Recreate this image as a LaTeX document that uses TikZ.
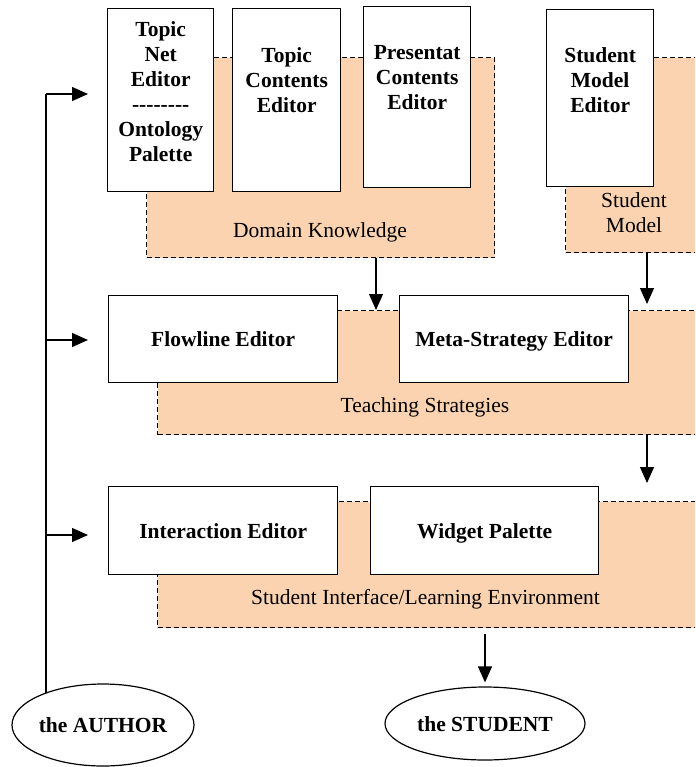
\documentclass[tikz,border=0pt]{standalone}
\usepackage{fontspec}
\setmainfont{Liberation Serif}
\usetikzlibrary{arrows.meta,calc,shapes.geometric,backgrounds}
\definecolor{peach}{HTML}{FBD3B1}
\newcommand{\hy}{\mbox{-}}
\begin{document}
\begin{tikzpicture}[x=1pt,y=-1pt,
  box/.style={draw, line width=1.4pt, fill=white, inner sep=0pt, anchor=north west,
    font=\bfseries\fontsize{21.5}{25}\selectfont, align=center, text height=15pt, text depth=0pt},
  region/.style={draw, fill=peach, line width=1.1pt, dash pattern=on 5pt off 3pt,
    inner sep=0pt, anchor=north west},
  btxt/.style={font=\bfseries\fontsize{21.5}{25}\selectfont, align=center, inner sep=0pt},
  rtxt/.style={font=\fontsize{21.5}{25}\selectfont, align=center, inner sep=0pt},
  arr/.style={line width=1.2pt, -{Triangle[length=16pt,width=14pt]}},
  link/.style={line width=1.2pt},
  actor/.style={ellipse, draw, line width=1.2pt, fill=white, inner sep=0pt,
    font=\bfseries\fontsize{21.5}{25}\selectfont, text height=15pt, text depth=0pt}
]
\useasboundingbox (0,0) rectangle (695,767);
\clip (0,0) rectangle (695,767);

% regions
\node[region, minimum width=348pt, minimum height=200pt] (dk) at (146,57) {};
\node[region, minimum width=145pt, minimum height=195pt] (sm) at (565,57) {};
\node[region, minimum width=550pt, minimum height=124pt] (ts) at (157,310) {};
\node[region, minimum width=550pt, minimum height=126pt] (si) at (157,501) {};

\node[rtxt, anchor=base] (dkl) at (320,237) {Domain Knowledge};
\node[rtxt, anchor=north] (sml) at (634,192) {Student\\Model};
\node[rtxt, anchor=base] (tsl) at (425,412) {Teaching Strategies};
\node[rtxt, anchor=base] (sil) at (425.5,604) {Student Interface/Learning Environment};

% top editors
\node[box, minimum width=106pt, minimum height=183pt] (tne) at (107,8) {};
\node[box, minimum width=108pt, minimum height=183pt] (tce) at (232,8) {};
\node[box, minimum width=107pt, minimum height=181pt] (pce) at (363,6) {};
\node[box, minimum width=107pt, minimum height=177pt] (sme) at (546,9) {};
\node[btxt, anchor=north] (tnet) at ([yshift=-13pt]tne.north) {Topic\\Net\\Editor\\\hy\hy\hy\hy\hy\hy\hy\hy\\Ontology\\Palette};
\node[btxt, anchor=north] (tcet) at ([yshift=-39pt]tce.north) {Topic\\Contents\\Editor};
\node[btxt, anchor=north] (pcet) at ([yshift=-39pt]pce.north) {Presentat\\Contents\\Editor};
\node[btxt, anchor=north] (smet) at ([yshift=-38pt]sme.north) {Student\\Model\\Editor};

% middle and bottom editors
\node[box, minimum width=229pt, minimum height=87pt] (fe) at (108,295) {Flowline Editor};
\node[box, minimum width=229pt, minimum height=87pt] (mse) at (399,295) {Meta-Strategy Editor};
\node[box, minimum width=229pt, minimum height=88pt] (ie) at (108,486) {Interaction Editor};
\node[box, minimum width=228pt, minimum height=88pt] (wp) at (370,486) {Widget Palette};

% actors
\node[actor, minimum width=182pt, minimum height=82pt] (author) at (103,725) {the AUTHOR};
\node[actor, minimum width=200pt, minimum height=73pt] (student) at (485,723.5) {the STUDENT};

% flows
\coordinate (c376) at (376,0);
\coordinate (c647) at (647,0);
\draw[arr] (dk.south -| c376) -- (ts.north -| c376);
\draw[arr, shorten >=6pt] (sm.south -| c647) -- (ts.north -| c647);
\draw[arr, shorten >=18pt] (ts.south -| c647) -- (si.north -| c647);
\draw[arr, shorten <=6pt, shorten >=4pt] (si.south -| student.north) -- (student.north);

% author links
\coordinate (a1) at (46,94);
\coordinate (a2) at (46,340);
\coordinate (a3) at (46,535);
\begin{scope}[on background layer]
\draw[link] (author.center -| a1) -- (a1);
\end{scope}
\draw[arr, shorten >=19pt] (a1) -- (a1 -| tne.west);
\draw[arr, shorten >=20pt] (a2) -- (a2 -| fe.west);
\draw[arr, shorten >=20pt] (a3) -- (a3 -| ie.west);
\end{tikzpicture}
\end{document}
